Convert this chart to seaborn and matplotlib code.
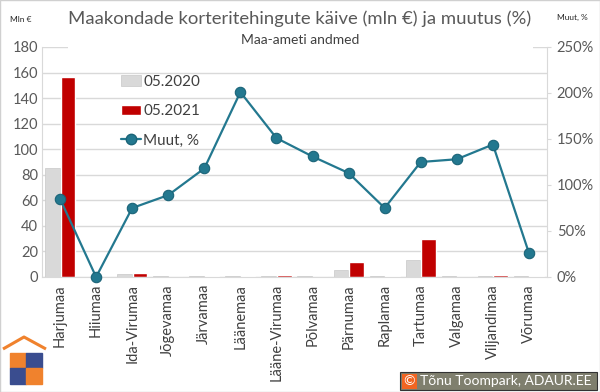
import numpy as np
import pandas as pd
import matplotlib
matplotlib.use("Agg")
import matplotlib.pyplot as plt
from matplotlib.patches import Rectangle, Patch
from matplotlib.lines import Line2D
from matplotlib.ticker import PercentFormatter
import seaborn as sns

# andmed
counties = ['Harjumaa', 'Hiiumaa', 'Ida-Virumaa', 'Jõgevamaa', 'Järvamaa', 'Läänemaa',
            'Lääne-Virumaa', 'Põlvamaa', 'Pärnumaa', 'Raplamaa', 'Tartumaa', 'Valgamaa',
            'Viljandimaa', 'Võrumaa']
v2020 = [85, 0.2, 2.3, 0.7, 0.4, 0.4, 0.6, 0.7, 5.5, 0.5, 13.3, 0.7, 0.6, 0.5]
v2021 = [156.5, 0.1, 3.1, 0.0, 0.8, 0.8, 1.5, 0.0, 11.7, 0.7, 29.7, 0.0, 1.5, 0.7]
muut = [0.85, 0.0, 0.75, 0.89, 1.18, 2.01, 1.51, 1.31, 1.13, 0.75, 1.25, 1.28, 1.44, 0.26]
series = ['05.2020', '05.2021']

df = pd.DataFrame({
    'maakond': counties * 2,
    'aasta': [series[0]] * len(counties) + [series[1]] * len(counties),
    'kaive': v2020 + v2021,
})

GREY = '#d9d9d9'
RED = '#c00000'
TEAL = '#23788f'
TXT = '#595959'

sns.set_style('white')
plt.rcParams['font.family'] = ['Lato', 'DejaVu Sans']

fig = plt.figure(figsize=(6, 3.92), dpi=100)
ax = fig.add_axes([42 / 600, 1 - 277 / 392, 505 / 600, 230 / 392])

sns.barplot(data=df, x='maakond', y='kaive', hue='aasta', hue_order=series,
            palette=[GREY, RED], width=0.86, gap=0.06, ax=ax, legend=False,
            saturation=1)
for p in ax.containers[0]:
    p.set_edgecolor('#c8c8c8')
    p.set_linewidth(0.5)

ax.set_xlim(-0.5, len(counties) - 0.5)
ax.set_ylim(0, 180)
ax.set_yticks(np.arange(0, 181, 20))
ax.grid(axis='y', color='#d9d9d9', linewidth=1)
ax.set_axisbelow(True)
ax.set_xlabel('')
ax.set_ylabel('')
for s in ['top', 'right']:
    ax.spines[s].set_visible(False)
for s in ['left', 'bottom']:
    ax.spines[s].set_color('#d9d9d9')
ax.tick_params(axis='y', labelsize=10.5, colors=TXT, length=0, pad=3)
ax.tick_params(axis='x', labelsize=10.5, colors=TXT, length=0, pad=5, labelrotation=90)
for lbl in ax.get_xticklabels():
    lbl.set_color('#404040')

ax2 = ax.twinx()
sns.lineplot(x=np.arange(len(counties)), y=muut, ax=ax2, color=TEAL, linewidth=1.6,
             marker='o', markersize=7.5, markeredgecolor='#1b6478',
             markeredgewidth=0.8, clip_on=False)
ax2.set_ylim(0, 2.5)
ax2.set_yticks(np.arange(0, 2.51, 0.5))
ax2.yaxis.set_major_formatter(PercentFormatter(1.0, decimals=0))
ax2.tick_params(axis='y', labelsize=10.5, colors=TXT, length=3, color='#d9d9d9', pad=4)
for s in ['top', 'left', 'bottom']:
    ax2.spines[s].set_visible(False)
ax2.spines['right'].set_color('#d9d9d9')
ax2.set_ylabel('')

handles = [Patch(facecolor=GREY, edgecolor='#c8c8c8', linewidth=0.5),
           Patch(facecolor=RED),
           Line2D([], [], color=TEAL, linewidth=1.6, marker='o', markersize=7.5,
                  markeredgecolor='#1b6478')]
leg = ax2.legend(handles, series + ['Muut, %'], loc='upper left',
                 bbox_to_anchor=(0.145, 0.905), frameon=False, fontsize=11,
                 labelspacing=1.0, handlelength=1.3, handletextpad=0.15,
                 borderaxespad=0)
for t in leg.get_texts():
    t.set_color('#404040')

# valge taust pealkirja all (peidab ülemise ruudujoone)
fig.add_artist(Rectangle((68 / 600, 1 - 50 / 392), 465 / 600, 50 / 392,
                         transform=fig.transFigure, facecolor='white',
                         edgecolor='none', zorder=5))

fig.text(0.5, 1 - 19 / 392, 'Maakondade korteritehingute käive (mln €) ja muutus (%)',
         ha='center', va='center', fontsize=13.3, color=TXT, zorder=6)
fig.text(0.5, 1 - 40 / 392, 'Maa-ameti andmed', ha='center', va='center',
         fontsize=10, color='#404040', zorder=6)
fig.text(10 / 600, 1 - 20 / 392, 'Mln €', ha='left', va='center', fontsize=6,
         color='#262626', zorder=6)
fig.text(557 / 600, 1 - 17 / 392, 'Muut, %', ha='left', va='center', fontsize=6,
         color='#262626', zorder=6)

# logo
axl = fig.add_axes([0, 0, 50 / 600, 62 / 392])
axl.set_xlim(0, 50)
axl.set_ylim(392, 330)
axl.axis('off')
axl.plot([3, 24, 46], [349, 337, 349], color='#f0822d', linewidth=2.2,
         solid_capstyle='butt')
axl.add_patch(Rectangle((10, 353), 16, 15, color='#f0822d'))
axl.add_patch(Rectangle((26, 353), 16, 15, color='#3a4d8f'))
axl.add_patch(Rectangle((10, 368), 16, 16, color='#3a4d8f'))
axl.add_patch(Rectangle((26, 368), 16, 16, color='#f0822d'))

# autoriõigus
fig.add_artist(Rectangle((400 / 600, 2 / 392), 197 / 600, 18 / 392,
                         transform=fig.transFigure, facecolor='#7f7f6e',
                         edgecolor='#333333', linewidth=0.8, zorder=5))
fig.add_artist(Rectangle((401.5 / 600, 3.5 / 392), 16 / 600, 15 / 392,
                         transform=fig.transFigure, facecolor='#f26522',
                         edgecolor='none', zorder=6))
fig.text(409.5 / 600, 11 / 392, '©', ha='center', va='center', fontsize=10,
         color='white', zorder=7)
fig.text(420 / 600, 11 / 392, 'Tõnu Toompark, ADAUR.EE', ha='left', va='center',
         fontsize=10, color='white', zorder=7)

fig.add_artist(Rectangle((0, 0), 1, 1, transform=fig.transFigure, facecolor='none',
                         edgecolor='#d0d0d0', linewidth=1, zorder=8))

fig.savefig('out.png', dpi=100)
